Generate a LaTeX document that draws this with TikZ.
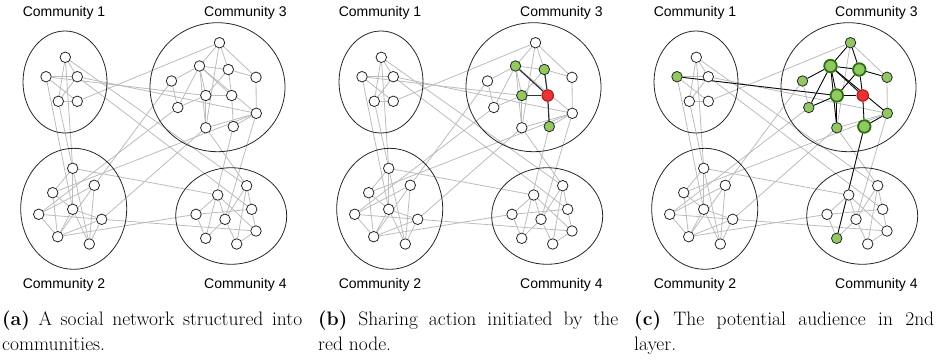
\documentclass[tikz,border=0pt]{standalone}
\usepackage{fontspec}
\newfontfamily\labelfont{Liberation Sans}
\usetikzlibrary{shapes.geometric,backgrounds}

\definecolor{linkgray}{RGB}{188,188,188}
\definecolor{leafgreen}{RGB}{146,200,98}
\definecolor{darkgreen}{RGB}{42,112,14}
\definecolor{seedred}{RGB}{232,52,52}
\definecolor{darkred}{RGB}{170,22,22}

\tikzset{
  vertex/.style={circle, draw=black!85, fill=white, line width=0.8pt,
                 minimum size=10.5pt, inner sep=0pt},
  community/.style={ellipse, draw=black!85, line width=0.8pt, inner sep=0pt},
  commlabel/.style={font=\labelfont\fontsize{14}{16}\selectfont, inner sep=0pt},
  caption/.style={anchor=north west, inner sep=0pt, text width=300pt,
                  align=justify, font=\fontsize{19.5}{25}\selectfont},
  link/.style={draw=linkgray, line width=0.8pt},
  spread/.style={draw=black!80, line width=1.2pt},
  reach/.style={draw=black, line width=0.8pt},
  seed/.style={fill=seedred, draw=darkred, line width=1pt, minimum size=11.5pt},
  reached/.style={fill=leafgreen},
  firstlayer/.style={fill=leafgreen, draw=darkgreen, line width=1.8pt,
                     minimum size=12.5pt},
  secondlayer/.style={fill=leafgreen},
  % per-panel highlight, looked up by node name
  hl/.code={\edef\hlkey{/tikz/hl #1/.try}\expandafter\pgfkeysalso\expandafter{\hlkey}},
}

% the network shared by the three panels
\newcommand{\socialnet}{%
  % communities
  \node[community, minimum width=84pt, minimum height=102pt] (comm1) at (65,82) {};
  \node[community, minimum width=106pt, minimum height=121pt] (comm2) at (73.7,208.8) {};
  \node[community, minimum width=135pt, minimum height=129pt] (comm3) at (217.5,87.2) {};
  \node[community, minimum width=111pt, minimum height=96.6pt] (comm4) at (231.2,216) {};
  \node[commlabel] (lab1) at (64,13) {Community 1};
  \node[commlabel] (lab3) at (245.4,13) {Community 3};
  \node[commlabel] (lab2) at (64,284.7) {Community 2};
  \node[commlabel] (lab4) at (245.4,284.7) {Community 4};
  % members
  \foreach \n/\x/\y in {
      a1/65.3/57.3, a2/46/76.7, a3/77.3/76.7, a4/58.3/101.3, a5/77.3/101.3,
      b1/219.5/42.7, b2/199.5/66, b3/228.3/69.5, b4/256/77.3, b5/171.5/81,
      b6/205.8/95.5, b7/231.7/95.5, b8/177.8/107.5, b9/256.3/113.3,
      b10/205.8/127.8, b11/233.3/126.5,
      c1/72.7/168.3, c2/94.3/185.3, c3/52.7/192.7, c4/72.7/209.3,
      c5/38.7/214.3, c6/101.7/219.3, c7/57.7/236.7, c8/89.3/244,
      d1/246.7/185.7, d2/217.7/195, d3/251.7/209.3, d4/196/214.3,
      d5/225/219.3, d6/256/231, d7/205.7/238.3, d8/236.7/244}
    \node[vertex, hl=\n] (\n) at (\x,\y) {};
  % friendships
  \begin{scope}[on background layer]
    \foreach \u/\v in {
        a1/a3, a1/a4, a2/a3, a2/a5, a3/a4, a4/a5,
        a2/c4, a4/c1, a1/c1, a5/b1, a2/b6, a3/b9, a1/d1, a3/d3,
        b1/b2, b1/b3, b1/b4, b1/b10, b2/b3, b2/b5, b2/b6, b2/b7, b2/b8,
        b2/b9, b2/b10, b3/b4, b3/b6, b3/b7, b4/b9, b5/b8, b6/b7, b6/b8,
        b6/b10, b7/b11, b9/b10, b9/b11,
        c5/b8, c3/b9, c2/b5, c6/b10, b10/d1, b11/d7, b9/d5,
        c1/c3, c1/c4, c1/c8, c2/c5, c2/c7, c2/c8, c3/c4, c3/c7, c4/c6,
        c4/c7, c4/c8, c5/c6, c5/c7, c6/c7, c6/c8,
        c1/d2, c7/d4, c6/d6,
        d1/d3, d1/d5, d1/d8, d2/d4, d2/d5, d2/d6, d3/d4, d3/d6, d4/d7,
        d5/d7, d5/d8, d6/d8}
      \draw[link] (\u) -- (\v);
  \end{scope}
}

\begin{document}
\begin{tikzpicture}[x=1pt, y=-1pt]
\useasboundingbox (0,0) rectangle (936,359);

%% (a) plain network
\begin{scope}[name prefix=pa-]
  \socialnet
\end{scope}

%% (b) first share
\begin{scope}[xshift=316pt, name prefix=pb-,
    hl b7/.style=seed, hl b2/.style=reached, hl b3/.style=reached,
    hl b6/.style=reached, hl b11/.style=reached]
  \socialnet
  \begin{scope}[on background layer]
    \foreach \v in {b2,b3,b6,b11}
      \draw[spread] (b7) -- (\v);
  \end{scope}
\end{scope}

%% (c) second layer
\begin{scope}[xshift=631pt, name prefix=pc-,
    hl b7/.style=seed,
    hl b2/.style=firstlayer, hl b3/.style=firstlayer,
    hl b6/.style=firstlayer, hl b11/.style=firstlayer,
    hl b1/.style=secondlayer, hl b4/.style=secondlayer,
    hl b5/.style=secondlayer, hl b8/.style=secondlayer,
    hl b9/.style=secondlayer, hl b10/.style=secondlayer,
    hl a2/.style=secondlayer, hl d7/.style=secondlayer]
  \socialnet
  \begin{scope}[on background layer]
    \foreach \u/\v in {
        b1/b2, b2/b3, b2/b5, b2/b6, b2/b7, b2/b8, b2/b9, b2/b10,
        b1/b3, b3/b4, b3/b6, b3/b7,
        a2/b6, b6/b7, b6/b8, b6/b10,
        b7/b11, b9/b11, b11/d7}
      \draw[reach] (\u) -- (\v);
  \end{scope}
\end{scope}

%% --- Captions ---
\node[caption] (capa) at (2,311)
  {\textbf{(a)} A social network structured into\linebreak communities.};
\node[caption] (capb) at (318,311)
  {\textbf{(b)} Sharing action initiated by the\linebreak red node.};
\node[caption] (capc) at (634,311)
  {\textbf{(c)} The potential audience in 2nd\linebreak layer.};

\end{tikzpicture}
\end{document}
